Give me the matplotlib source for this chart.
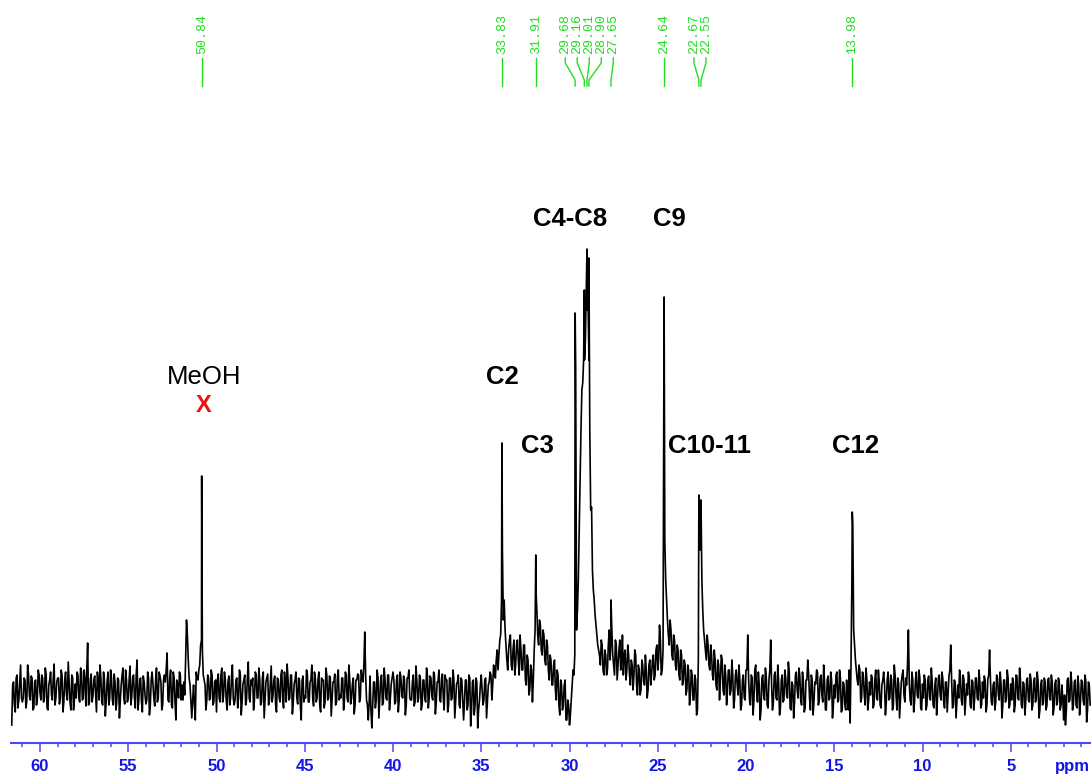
import numpy as np
import matplotlib
matplotlib.use("Agg")
import matplotlib.pyplot as plt
import matplotlib.transforms as mtransforms
from matplotlib.ticker import FixedLocator

plt.rcParams['font.family'] = ['Liberation Sans', 'DejaVu Sans']

# ---------------------------------------------------------------- data
# picked peaks (ppm) and their intensities
peak_ppm = [50.84, 33.83, 31.91, 29.68, 29.16, 29.01, 28.90, 27.65, 24.64, 22.67, 22.55, 13.98]
peak_height = [214, 247, 135, 377, 400, 441, 432, 90, 393, 195, 190, 178]

# baseline trace on whole 0.1 ppm points, starting at 61.6 ppm
baseline_start = 61.6
baseline_step = 0.1
baseline = [
    -35, 8, -22, 15, -10, 25, -12,                      # 61.6-61.0
    12, -18, 25, -6, 14, -20, 8, -15, 20, -3,           # 60.9-60.0
    15, -12, 22, -18, 5, 18, -10, 26, -8, 12,           # 59
    -14, 20, -22, 10, -5, 28, -12, 15, -20, 6,          # 58
    18, -8, 22, -10, 20, -16, 47, -12, 16, -6,          # 57
    14, -22, 10, 25, -12, 18, -26, 8, -15, 20,          # 56
    -10, 16, -20, 12, -28, 5, 22, -14, 10, -8,          # 55
    24, -6, 15, -18, 30, -10, 12, -22, 8, -14,          # 54
    18, -25, 10, 6, -16, 22, -8, 14, -20, 10,           # 53
    8, 37, -12, 20, -18, 12, -30, 5, 18, -10,           # 52
    -10, -5, 70, 30, 5, -28, 5, -30, 12, 20,            # 51
    45, 40, 10, -20, 15, -10, 20, -15, 8, -22,          # 50
    16, -12, 22, -6, 10, -20, 14, -8, 25, -15,          # 49
    10, -18, 20, -25, 6, 15, -10, 28, -12, 5,           # 48
    -20, 18, -8, 22, -15, 12, -28, 8, 16, -10,          # 47
    24, -5, 14, -22, 10, -12, 20, -18, 8, 26,           # 46
    -10, 15, -24, 6, 18, -14, 10, -30, 14, -6,          # 45
    20, -12, 8, 25, -16, 12, -8, 18, -22, 10,           # 44
    -18, 22, -10, 14, -26, 8, 16, -12, 20, -5,          # 43
    12, -20, 18, -8, 25, -14, 6, -24, 10, 16,           # 42
    -12, 20, 8, 58, -10, -30, 14, -38, 8, -18,          # 41
    20, -28, 10, -15, 22, -8, 15, -20, 6, 18,           # 40
    -14, 10, -22, 18, -6, 14, -25, 12, 20, -10,         # 39
    8, -16, 24, -12, 15, -20, 10, -8, 22, -18,          # 38
    14, -6, 18, -24, 8, 20, -12, 16, -20, 10,           # 37
    -22, 12, -10, 20, -28, 6, 15, -18, 10, -30,         # 36
    10, -20, 15, -36, 8, -25, 12, -38, -10, 15,         # 35
    -15, 10, -28, 5, 18, -10, 25, 12, 40, 35,           # 34
    55, 140, 90, 45, 20, 50, 25, 40, 15, 45,            # 33
    30, 55, 20, 45, 10, 35, -5, 25, -12, 40,            # 32
    100, 55, 70, 40, 60, 30, 50, 20, 35, 5,             # 31
    25, 0, 20, -15, 10, -20, 5, -30, -10, -35,          # 30
    -10, 20, 35, 60, 110, 210, 300, 330, 350, 380,      # 29
    330, 180, 120, 90, 65, 45, 35, 50, 20, 40,          # 28
    15, 45, 30, 60, 25, 50, 10, 40, 20, 55,             # 27
    35, 10, 45, 15, 30, 0, 40, 5, 25, -5,               # 26
    30, 8, 35, -8, 25, 5, 30, 10, 40, 20,               # 25
    65, 15, 40, 150, 90, 55, 70, 35, 55, 25,            # 24
    45, 15, 40, 5, 30, -5, 25, -15, 20, -10,            # 23
    15, -25, 30, 140, 110, 60, 40, 55, 25, 45,          # 22
    15, 40, 5, 30, -10, 35, 0, 25, -15, 20,             # 21
    -5, 30, -18, 15, 5, 25, -20, 10, -8, 20,            # 20
    55, -10, 15, -25, 20, 0, 18, -30, 12, -5,           # 19
    22, -15, 10, 50, -20, 15, -8, 25, -25, 10,          # 18
    -12, 20, -5, 28, -18, 8, -28, 15, 0, 22,            # 17
    -10, 18, -22, 10, 30, -8, 15, -25, 8, 20,           # 16
    -15, 12, -5, 25, -20, 10, -10, 18, -28, 5,          # 15
    15, -12, 20, -22, 8, -15, 10, -20, -33, 110,        # 14
    60, 30, 10, 25, -12, 18, -5, 22, -20, 8,            # 13
    15, -18, 10, -8, 20, -15, 5, 18, -25, 10,           # 12
    -10, 15, -20, 25, -5, 12, -28, 8, 20, -12,          # 11
    5, 60, -10, 18, -22, 10, -5, 20, -18, 6,            # 10
    15, -20, 10, -8, 22, -15, 5, -25, 12, -5,           # 9
    18, -12, 8, -22, 14, 45, -18, 10, -28, 5,           # 8
    20, -10, 15, -25, 6, 18, -15, 10, -20, 12,          # 7
    -8, 20, -18, 8, 14, -22, 10, 40, -12, 5,            # 6
    -20, 15, -5, 18, -28, 10, -12, 20, -18, 6,          # 5
    12, -22, 15, -8, 22, -15, 8, -25, 10, -10,          # 4
    16, -20, 8, -12, 18, -28, 5, -15, 12, -20,          # 3
    10, -8, 15, -25, 6, -15, 12, -20, 5, -30,           # 2
    -35, 10, -12, 18, -20, 8, -15, 14, -25, 10,         # 1
    -10, 15, -32, 8, -15,                               # 0.9-0.5
]

# baseline trace on the half points in between (61.55, 61.45, ...)
baseline_mid = [
    5, -15, 12, -18, 8, -8,                             # 61.55-61.05
    -8, 10, -12, 15, -10, 12, -18, 10, -8, 15,          # 60.95-60.05
    -10, 12, -8, 15, -20, 10, -5, 12, -15, 8,           # 59
    12, -8, 15, -12, 18, -10, 8, -20, 12, -10,          # 58
    -8, 15, -12, 18, -8, 10, 20, -15, 10, -12,          # 57
    10, -5, 18, -10, 12, -15, 10, -12, 18, -8,          # 56
    12, -15, 8, -12, 10, -10, 15, -8, 20, -12,          # 55
    10, -15, 12, -8, 15, -20, 10, -12, 14, -5,          # 54
    -10, 12, -15, 18, -8, 10, -12, 18, 8, -15,          # 53
    15, 20, -10, 12, -15, 18, -12, 10, -8, 15,          # 52
    5, 8, 30, 55, 12, -12, -10, -15, 18, 10,            # 51
    25, 50, 15, 5, -10, 12, -8, 15, -12, 10,            # 50
    10, -8, 15, -12, 18, -10, 8, -15, 12, -8,           # 49
    -10, 12, -8, 15, -12, 10, -15, 12, -8, 10,          # 48
    12, -10, 15, -8, 10, -12, 18, -10, 12, -15,         # 47
    8, -12, 10, -15, 12, -8, 15, -10, 18, -12,          # 46
    12, -8, 15, -12, 10, -8, 12, -15, 10, -12,          # 45
    -8, 15, -12, 10, -8, 18, -12, 10, -15, 12,          # 44
    10, -12, 15, -8, 12, -10, 8, -15, 12, -10,          # 43
    -8, 12, -10, 15, -12, 10, -8, 12, -15, 10,          # 42
    15, -8, 12, 25, 15, -15, -12, -20, -15, 8,          # 41
    -10, 12, -8, 15, -12, 10, -10, 15, -8, 12,          # 40
    10, -12, 15, -10, 12, -8, 10, -15, 12, -8,          # 39
    -10, 15, -12, 10, -8, 12, -15, 10, -12, 15,         # 38
    -8, 12, -10, 15, -12, 8, -10, 12, -8, 15,           # 37
    10, -15, 12, -8, 10, -12, 8, -15, 12, -10,          # 36
    -12, 10, -15, 12, -20, 10, -15, 8, -20, 5,          # 35
    0, -10, 12, -12, 8, 15, 5, 20, 30, 20,              # 34
    50, 90, 70, 60, 30, 40, 55, 20, 50, 25,             # 33
    50, 15, 40, 20, 45, 5, 30, 0, 20, 10,               # 32
    60, 80, 45, 65, 35, 55, 25, 45, 10, 30,             # 31
    5, 30, -10, 15, -25, 5, -15, 10, -30, -15,          # 30
    -25, 5, 15, 323, 80, 160, 260, 307, 330, 400,       # 29
    390, 260, 183, 100, 75, 55, 40, 25, 45, 15,         # 28
    35, 20, 60, 50, 35, 15, 45, 25, 50, 30,             # 27
    15, 40, 20, 35, 5, 25, 15, 35, -5, 20,              # 26
    0, 25, 5, 20, 0, 30, 15, 35, 15, 45,                # 25
    30, 50, 20, 333, 110, 70, 45, 60, 30, 50,           # 24
    20, 40, 10, 35, 10, 25, 0, 20, -5, 15,              # 23
    -10, 10, -20, 180, 150, 80, 50, 30, 45, 20,         # 22
    35, 10, 30, 0, 25, 10, 30, -5, 15, 0,               # 21
    20, 0, 15, -10, 20, -5, 10, -15, 15, -10,           # 20
    20, 10, -15, 12, -10, 25, -12, 5, -20, 15,          # 19
    -10, 12, -18, 20, 5, -12, 18, -10, 8, -18,          # 18
    15, -10, 12, -8, 18, -20, 5, -12, 18, -8,           # 17
    14, -15, 8, -18, 10, 15, -20, 10, -12, 6,           # 16
    18, -10, 15, -12, 8, -20, 14, -8, 10, -15,          # 15
    -8, 18, -10, 12, -20, 6, -20, -10, 20, 27,          # 14
    167, 45, 20, 5, 20, -8, 14, -15, 10, -10,           # 13
    -5, 12, -15, 20, -10, 8, -18, 10, 5, -12,           # 12
    18, -8, 10, -15, 14, -20, 6, -10, 15, -5,           # 11
    12, 25, 8, -15, 10, -12, 18, -8, 12, -20,           # 10
    -8, 10, -15, 14, -10, 8, -18, 12, -8, 15,           # 9
    -10, 12, -18, 8, -5, 20, 10, -15, 8, -12,           # 8
    -8, 12, -15, 10, -10, -5, 12, -18, 8, -10,          # 7
    12, -10, 8, -15, -8, 10, -15, 15, 10, -15,          # 6
    8, -12, 12, -10, 6, -15, 10, -8, 12, -15,           # 5
    -10, 8, -15, 14, -10, 10, -18, 6, -12, 12,          # 4
    -12, 10, -15, 12, -8, 8, -20, 10, -12, 8,           # 3
    -15, 12, -10, 8, -18, 10, -12, 8, -15, -10,         # 2
    -5, -20, 12, -10, 8, -15, 10, -18, 5, -12,          # 1
    8, -15, 10, -20, 5,                                 # 0.95-0.55
]

axis_ticks = [60, 55, 50, 45, 40, 35, 30, 25, 20, 15, 10, 5]
assignments = ["MeOH", "C2", "C3", "C4-C8", "C9", "C10-11", "C12"]

# ---------------------------------------------------------------- figure
W, H, DPI = 1091, 776, 100
PX_PER_PPM = 17.65
LEFT_PPM = 60 + 40 / PX_PER_PPM
RIGHT_PPM = LEFT_PPM - W / PX_PER_PPM
AXIS_Y = 743          # pixel row of the ppm axis
ZERO_Y = 690          # pixel row of zero intensity

fig = plt.figure(figsize=(W / DPI, H / DPI), dpi=DPI)
ax = fig.add_axes([0, (H - AXIS_Y) / H, 1, AXIS_Y / H])
ax.set_xlim(LEFT_PPM, RIGHT_PPM)
ax.set_ylim(-(AXIS_Y - ZERO_Y), ZERO_Y)


def fy(px):
    return 1 - px / H


trans = mtransforms.blended_transform_factory(ax.transData, fig.transFigure)

# spectrum: both baseline grids merged with the peak maxima
grid_ppm = baseline_start - baseline_step * np.arange(len(baseline))
mid_ppm = baseline_start - baseline_step / 2 - baseline_step * np.arange(len(baseline_mid))
all_ppm = np.concatenate([grid_ppm, mid_ppm, np.asarray(peak_ppm)])
all_int = np.concatenate([np.asarray(baseline, float), np.asarray(baseline_mid, float),
                          np.asarray(peak_height, float)])
order = np.argsort(-all_ppm, kind="stable")
ax.plot(all_ppm[order], all_int[order], color="black", lw=1.2)

# ppm axis
for s in ("top", "left", "right"):
    ax.spines[s].set_visible(False)
axis_blue = "#4747ff"
label_blue = "#1414e6"
ax.spines["bottom"].set_color(axis_blue)
ax.spines["bottom"].set_linewidth(1.5)
ax.spines["bottom"].set_bounds(61.64, RIGHT_PPM)
ax.set_xticks(axis_ticks, [str(t) for t in axis_ticks], fontsize=12,
              fontweight="bold", color=label_blue)
ax.xaxis.set_minor_locator(FixedLocator(np.arange(1, 62)))
ax.tick_params(axis="x", which="major", direction="out", length=6.2, width=1.1,
               color=axis_blue, pad=5.0)
ax.tick_params(axis="x", which="minor", direction="out", length=3.0, width=1.1,
               color=axis_blue)
ax.set_yticks([])
fig.text(1072 / W, fy(766), "ppm", color=label_blue, fontsize=12, fontweight="bold",
         ha="center", va="center")


# peak pick labels along the top
def spread_labels(ppms, gap):
    groups = [[p] for p in sorted(ppms, reverse=True)]

    def place(g):
        c = float(np.mean(g))
        n = len(g)
        return [c + gap * ((n - 1) / 2 - i) for i in range(n)]

    merged = True
    while merged:
        merged = False
        for i in range(len(groups) - 1):
            if place(groups[i])[-1] - place(groups[i + 1])[0] < gap:
                groups[i] = groups[i] + groups[i + 1]
                del groups[i + 1]
                merged = True
                break
    out = []
    for g in groups:
        out += place(g)
    return out


green = "#22dd22"
label_pos = spread_labels(peak_ppm, 12 / PX_PER_PPM)
for p, lp in zip(sorted(peak_ppm, reverse=True), label_pos):
    ax.plot([lp, lp, p, p], [fy(58), fy(63), fy(80), fy(86)], color=green, lw=1.0,
            transform=trans, clip_on=False)
    ax.text(lp, fy(54), f"{p:.2f}", rotation=90, ha="center", va="bottom",
            color=green, fontsize=9.6, family=["Liberation Mono", "DejaVu Sans Mono"],
            transform=trans)

# assignment labels
bold = dict(fontsize=18.5, fontweight="bold", color="black", ha="center",
            va="baseline", transform=trans)
ax.text(50.72, fy(384), assignments[0], fontsize=18.5, color="black", ha="center",
        va="baseline", transform=trans)
ax.text(50.72, fy(412), "X", fontsize=17, fontweight="bold", color="#ee1111",
        ha="center", va="baseline", transform=trans)
ax.text(33.83, fy(384), assignments[1], **bold)
ax.text(31.84, fy(453), assignments[2], **bold)
ax.text(29.94, fy(226), assignments[3], **bold)
ax.text(24.36, fy(226), assignments[4], **bold)
ax.text(22.04, fy(453), assignments[5], **bold)
ax.text(13.80, fy(453), assignments[6], **bold)

fig.savefig("out.png", dpi=DPI)
